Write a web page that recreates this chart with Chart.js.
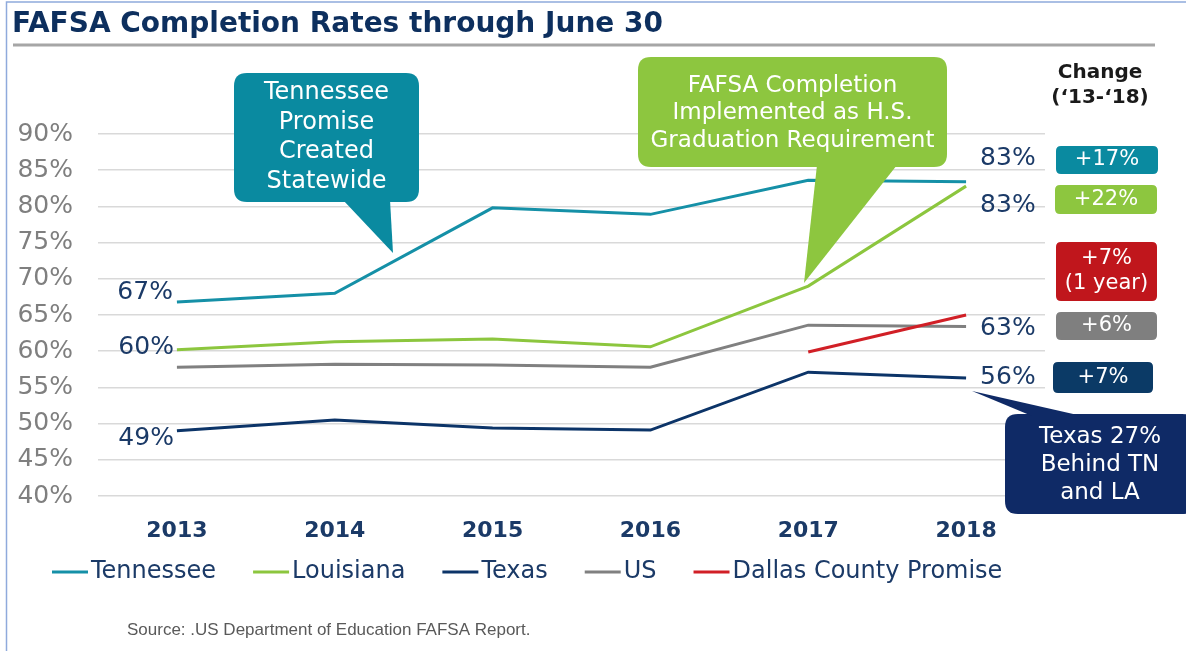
<!DOCTYPE html>
<html>
<head>
<meta charset="utf-8">
<script src="https://cdn.jsdelivr.net/npm/chart.js@4.4.0/dist/chart.umd.min.js"></script>
<style>
  html, body { margin: 0; padding: 0; background: #fff; }
  #wrap { position: relative; width: 1186px; height: 651px; }
</style>
</head>
<body>
<div id="wrap"><canvas id="chart" width="1186" height="651"></canvas></div>
<script>
// Chart data
const years = ['2013', '2014', '2015', '2016', '2017', '2018'];
const seriesNames = ['Tennessee', 'Louisiana', 'Texas', 'US', 'Dallas County Promise'];
const tennessee = [66.8, 68.0, 79.8, 78.9, 83.6, 83.4];
const louisiana = [60.2, 61.3, 61.7, 60.6, 69.0, 82.8];
const texas = [49.0, 50.5, 49.4, 49.1, 57.1, 56.3];
const us = [57.8, 58.2, 58.1, 57.8, 63.6, 63.4];
const dallas = [null, null, null, null, 59.9, 65.0];
const yMin = 40, yMax = 90, yStep = 5;
const changeLabels = [['+17%'], ['+22%'], ['+7%', '(1 year)'], ['+6%'], ['+7%']];

const FONT = '"DejaVu Sans", Verdana, sans-serif';
const NAVY_TEXT = '#1b3a67';
const colors = {
    tn: '#1590a7',
    la: '#8cc63e',
    tx: '#0c3468',
    us: '#808080',
    dallas: '#d11f26'
};

// rounded rectangle helper
function roundBox(ctx, x, y, w, h, r) {
    ctx.beginPath();
    ctx.moveTo(x + r, y);
    ctx.lineTo(x + w - r, y);
    ctx.quadraticCurveTo(x + w, y, x + w, y + r);
    ctx.lineTo(x + w, y + h - r);
    ctx.quadraticCurveTo(x + w, y + h, x + w - r, y + h);
    ctx.lineTo(x + r, y + h);
    ctx.quadraticCurveTo(x, y + h, x, y + h - r);
    ctx.lineTo(x, y + r);
    ctx.quadraticCurveTo(x, y, x + r, y);
    ctx.closePath();
}

function triangle(ctx, pts) {
    ctx.beginPath();
    ctx.moveTo(pts[0][0], pts[0][1]);
    ctx.lineTo(pts[1][0], pts[1][1]);
    ctx.lineTo(pts[2][0], pts[2][1]);
    ctx.closePath();
}

function callout(ctx, box, pointer, color, lines, lineYs, fontSize) {
    ctx.fillStyle = color;
    roundBox(ctx, box[0], box[1], box[2], box[3], 13);
    ctx.fill();
    triangle(ctx, pointer);
    ctx.fill();
    ctx.fillStyle = '#ffffff';
    ctx.font = fontSize + 'px ' + FONT;
    ctx.textAlign = 'center';
    ctx.textBaseline = 'middle';
    lines.forEach((t, i) => ctx.fillText(t, box[0] + box[2] / 2, lineYs[i]));
}

// everything that is not a data mark: title, callouts, labels, legend
const decorations = {
    id: 'decorations',
    afterDraw(chart) {
        const ctx = chart.ctx;
        ctx.save();

        // frame
        ctx.strokeStyle = '#8faadc';
        ctx.lineWidth = 1.5;
        ctx.beginPath();
        ctx.moveTo(6.5, 651);
        ctx.lineTo(6.5, 2);
        ctx.lineTo(1186, 2);
        ctx.stroke();

        // title + rule
        ctx.fillStyle = '#0d2f5e';
        ctx.font = 'bold 28px ' + FONT;
        ctx.textAlign = 'left';
        ctx.textBaseline = 'alphabetic';
        ctx.fillText('FAFSA Completion Rates through June 30', 12, 32);
        ctx.strokeStyle = '#a6a6a6';
        ctx.lineWidth = 3;
        ctx.beginPath();
        ctx.moveTo(13, 45);
        ctx.lineTo(1155, 45);
        ctx.stroke();

        // value labels at start and end of lines
        const pt = (ds, i) => chart.getDatasetMeta(ds).data[i];
        const pct = v => Math.round(v) + '%';
        ctx.font = '25px ' + FONT;
        ctx.fillStyle = NAVY_TEXT;
        ctx.textBaseline = 'middle';
        ctx.textAlign = 'right';
        let p = pt(0, 0); ctx.fillText(pct(tennessee[0]), p.x - 4, p.y - 9);
        p = pt(1, 0); ctx.fillText(pct(louisiana[0]), p.x - 3, p.y - 2);
        p = pt(2, 0); ctx.fillText(pct(texas[0]), p.x - 3, p.y + 8);
        ctx.textAlign = 'left';
        const last = years.length - 1;
        p = pt(0, last); ctx.fillText(pct(tennessee[last]), p.x + 14, p.y - 23);
        p = pt(1, last); ctx.fillText(pct(louisiana[last]), p.x + 14, p.y + 19);
        p = pt(3, last); ctx.fillText(pct(us[last]), p.x + 14, p.y + 2);
        p = pt(2, last); ctx.fillText(pct(texas[last]), p.x + 14, p.y);

        // callouts
        callout(ctx, [234, 73, 185, 129], [[343, 200], [390, 200], [393, 253]], '#0a8aa0',
            ['Tennessee', 'Promise', 'Created', 'Statewide'], [93, 123, 152, 182], 24);
        callout(ctx, [638, 57, 309, 110], [[817, 165], [897, 165], [804, 283]], '#8dc63f',
            ['FAFSA Completion', 'Implemented as H.S.', 'Graduation Requirement'], [86, 113, 141], 23);
        callout(ctx, [1005, 414, 190, 100], [[972, 391], [1032, 416], [1082, 416]], '#0f2a66',
            ['Texas 27%', 'Behind TN', 'and LA'], [437, 465, 493], 23);

        // change column
        ctx.fillStyle = '#1a1a1a';
        ctx.font = 'bold 20px ' + FONT;
        ctx.textAlign = 'center';
        ctx.fillText('Change', 1100, 73);
        ctx.fillText('(\u201813-\u201818)', 1100, 98);

        const badges = [
            [1056, 146, 102, 28, '#0a8aa0'],
            [1055, 185, 102, 29, '#8dc63f'],
            [1056, 242, 101, 59, '#c0161c'],
            [1056, 312, 101, 28, '#7f7f7f'],
            [1053, 362, 100, 31, '#0b3a66']
        ];
        ctx.font = '21px ' + FONT;
        badges.forEach((b, i) => {
            ctx.fillStyle = b[4];
            roundBox(ctx, b[0], b[1], b[2], b[3], 5);
            ctx.fill();
            ctx.fillStyle = '#ffffff';
            const lines = changeLabels[i];
            const cy = b[1] + b[3] / 2;
            lines.forEach((t, j) => {
                ctx.fillText(t, b[0] + b[2] / 2, cy + (j - (lines.length - 1) / 2) * 25);
            });
        });

        // legend
        ctx.font = '24px ' + FONT;
        ctx.textAlign = 'left';
        let lx = 52;
        const ly = 572;
        chart.data.datasets.forEach(ds => {
            ctx.strokeStyle = ds.borderColor;
            ctx.lineWidth = 3;
            ctx.beginPath();
            ctx.moveTo(lx, ly);
            ctx.lineTo(lx + 36, ly);
            ctx.stroke();
            ctx.fillStyle = NAVY_TEXT;
            ctx.fillText(ds.label, lx + 39, ly);
            lx += 39 + ctx.measureText(ds.label).width + 37;
        });

        // source
        ctx.fillStyle = '#595959';
        ctx.font = '17px "Liberation Sans", Arial, sans-serif';
        ctx.fillText('Source: .US Department of Education FAFSA Report.', 127, 630);

        ctx.restore();
    }
};

function lineSet(label, data, color, order) {
    return {
        label: label,
        data: data,
        borderColor: color,
        backgroundColor: color,
        borderWidth: 3,
        pointRadius: 0,
        tension: 0,
        spanGaps: false,
        order: order
    };
}

const chart = new Chart(document.getElementById('chart'), {
    type: 'line',
    data: {
        labels: years,
        datasets: [
            lineSet(seriesNames[0], tennessee, colors.tn, 1),
            lineSet(seriesNames[1], louisiana, colors.la, 1),
            lineSet(seriesNames[2], texas, colors.tx, 1),
            lineSet(seriesNames[3], us, colors.us, 1),
            lineSet(seriesNames[4], dallas, colors.dallas, 0)
        ]
    },
    options: {
        responsive: false,
        animation: false,
        layout: { padding: { left: 0, top: 134, right: 141, bottom: 95 } },
        plugins: {
            legend: { display: false },
            tooltip: { enabled: false }
        },
        scales: {
            x: {
                offset: true,
                grid: { display: false },
                border: { display: false },
                ticks: {
                    color: NAVY_TEXT,
                    font: { family: FONT, size: 22, weight: 'bold' },
                    padding: 14
                },
                afterFit: s => { s.height = 60; }
            },
            y: {
                min: yMin,
                max: yMax,
                border: { display: false },
                grid: { color: '#d9d9d9', lineWidth: 1.5, drawTicks: false },
                ticks: {
                    stepSize: yStep,
                    color: '#7f7f7f',
                    font: { family: FONT, size: 25 },
                    padding: 25,
                    callback: v => v + '%'
                },
                afterFit: s => { s.width = 98; }
            }
        }
    },
    plugins: [decorations]
});
</script>
</body>
</html>
